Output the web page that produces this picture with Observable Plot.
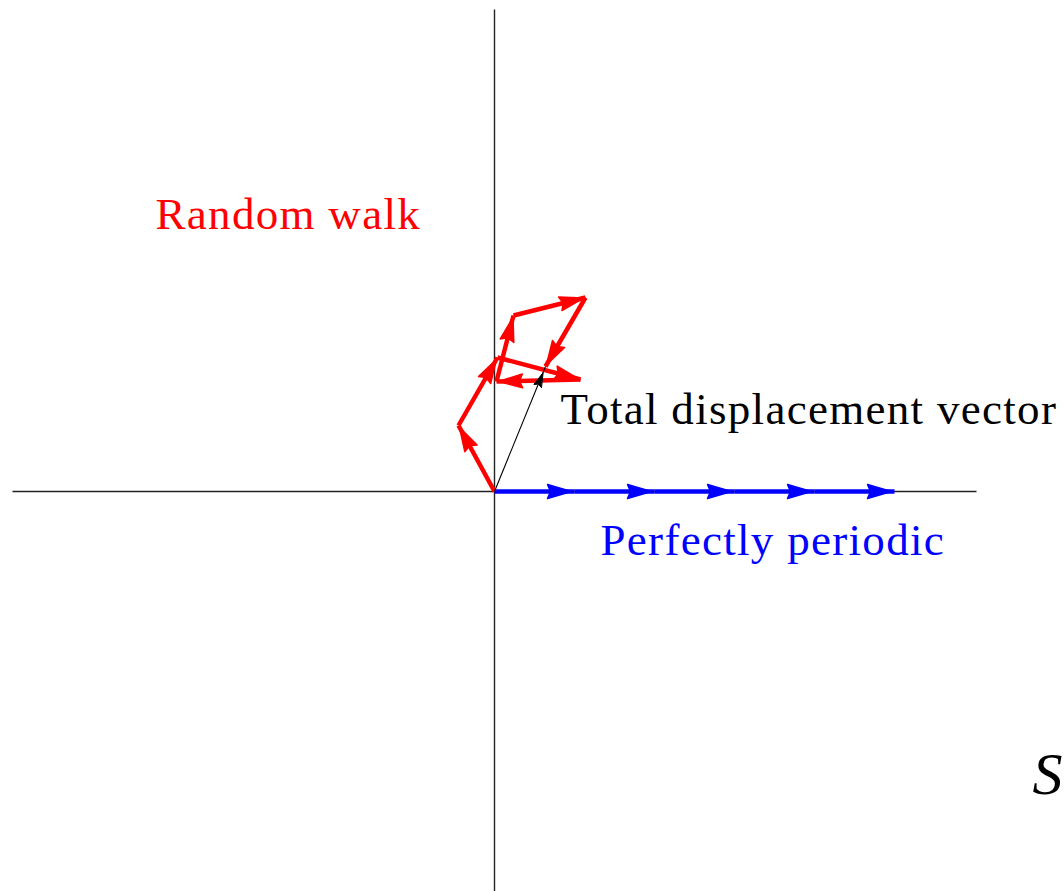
<!DOCTYPE html>
<html>
<head>
<meta charset="utf-8">
<script src="https://cdn.jsdelivr.net/npm/d3@7"></script>
<script src="https://cdn.jsdelivr.net/npm/@observablehq/plot@0.6"></script>
<style>
  html, body { margin: 0; padding: 0; background: #fff; }
  #chart svg { display: block; }
</style>
</head>
<body>
<div id="chart"></div>
<script>
// ---- Data (1 unit = one step) ----
// Random-walk vertices (cumulative sum of unit phasors with random phase)
const walkX = [0, -0.45, 0.0375, 1.075, 0.025, 0.2375, 1.1375, 0.6375];
const walkY = [0, 0.825, 1.675, 1.4, 1.375, 2.2, 2.425, 1.5625];
// Perfectly periodic: all phasors in phase
const periodicX = [0, 1, 2, 3, 4, 5];
const periodicY = [0, 0, 0, 0, 0, 0];
// Axis extent
const axisExtent = 6.025;
// Labels
const labelText = ["Random walk", "Total displacement vector", "Perfectly periodic", "S"];
const labelX = [-4.2375, 0.825, 1.325, 6.725];
const labelY = [3.2875, 0.85, -0.7875, -3.775];

// ---- Build segments / arrowheads from the arrays ----
const PX = 80; // pixels per data unit (both axes)
function segments(xs, ys) {
  const out = [];
  for (let i = 1; i < xs.length; i++) out.push({x1: xs[i-1], y1: ys[i-1], x2: xs[i], y2: ys[i]});
  return out;
}
function heads(segs, len, hw, back, notch) {
  const pts = [];
  segs.forEach((s, k) => {
    const dx = s.x2 - s.x1, dy = s.y2 - s.y1;
    const L = Math.hypot(dx, dy);
    const ux = dx / L, uy = dy / L, px = -uy, py = ux;
    const tx = s.x2 - ux * back / PX, ty = s.y2 - uy * back / PX;
    const bx = tx - ux * len / PX, by = ty - uy * len / PX;
    const nx = bx + ux * notch / PX, ny = by + uy * notch / PX;
    pts.push({id: k, x: tx, y: ty});
    pts.push({id: k, x: bx + px * hw / PX, y: by + py * hw / PX});
    pts.push({id: k, x: nx, y: ny});
    pts.push({id: k, x: bx - px * hw / PX, y: by - py * hw / PX});
  });
  return pts;
}
const redSegs = segments(walkX, walkY);
const blueSegs = segments(periodicX, periodicY);
const n = walkX.length - 1;
const blackSegs = [{x1: walkX[0], y1: walkY[0], x2: walkX[n], y2: walkY[n]}];
const axes = [
  {x1: -axisExtent, y1: 0, x2: axisExtent, y2: 0},
  {x1: 0, y1: axisExtent, x2: 0, y2: -axisExtent}
];
const labels = labelText.map((t, i) => ({t, x: labelX[i], y: labelY[i]}));

const serif = "'Liberation Serif', 'Times New Roman', Times, serif";

const chart = Plot.plot({
  width: 1064,
  height: 891,
  margin: 0,
  x: {domain: [-494 / PX, 570 / PX], axis: null},
  y: {domain: [-400 / PX, 491 / PX], axis: null},
  style: {background: "#fff"},
  marks: [
    Plot.link(axes, {x1: "x1", y1: "y1", x2: "x2", y2: "y2", stroke: "#222", strokeWidth: 1.4}),
    Plot.link(blueSegs, {x1: "x1", y1: "y1", x2: "x2", y2: "y2", stroke: "#0000ff", strokeWidth: 4.5}),
    Plot.line(heads(blueSegs, 24, 7, 3, 3), {x: "x", y: "y", z: "id", fill: "#0000ff", stroke: "#0000ff", strokeWidth: 1.5, curve: "linear-closed"}),
    Plot.link(redSegs, {x1: "x1", y1: "y1", x2: "x2", y2: "y2", stroke: "#ff0000", strokeWidth: 4.5}),
    Plot.line(heads(redSegs, 24, 7, 2, 3), {x: "x", y: "y", z: "id", fill: "#ff0000", stroke: "#ff0000", strokeWidth: 1.5, curve: "linear-closed"}),
    Plot.link(blackSegs, {x1: "x1", y1: "y1", x2: "x2", y2: "y2", stroke: "#000", strokeWidth: 1.1}),
    Plot.line(heads(blackSegs, 14, 4, 7, 2), {x: "x", y: "y", z: "id", fill: "#000", stroke: "#000", strokeWidth: 1, curve: "linear-closed"}),
    Plot.text(labels.filter((d, i) => i === 0), {x: "x", y: "y", text: "t", fill: "#ff0000", fontSize: 45, fontFamily: serif, textAnchor: "start", lineAnchor: "bottom"}),
    Plot.text(labels.filter((d, i) => i === 1), {x: "x", y: "y", text: "t", fill: "#000", fontSize: 45, fontFamily: serif, textAnchor: "start", lineAnchor: "bottom"}),
    Plot.text(labels.filter((d, i) => i === 2), {x: "x", y: "y", text: "t", fill: "#0000ff", fontSize: 45, fontFamily: serif, textAnchor: "start", lineAnchor: "bottom"}),
    Plot.text(labels.filter((d, i) => i === 3), {x: "x", y: "y", text: "t", fill: "#000", fontSize: 60, fontFamily: serif, fontStyle: "italic", textAnchor: "start", lineAnchor: "bottom"})
  ]
});
// slight letter spacing so label widths match the reference
d3.select(chart).selectAll("text").filter(function() { return this.textContent !== "S"; }).style("letter-spacing", "1.3px");
document.getElementById("chart").appendChild(chart);
</script>
</body>
</html>
